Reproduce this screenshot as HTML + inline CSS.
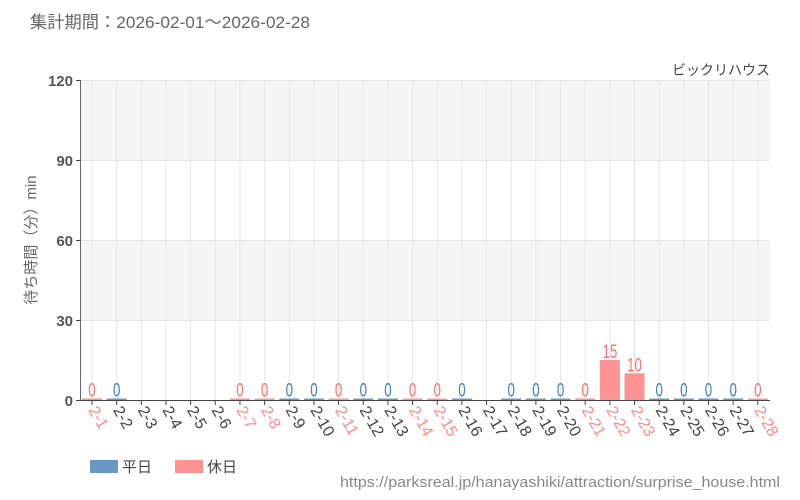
<!DOCTYPE html>
<html><head><meta charset="utf-8"><style>
body{margin:0;background:#fff;}
svg{display:block;font-family:"Liberation Sans","Noto Sans CJK JP",sans-serif;}
</style></head><body>
<svg id="c" width="800" height="500" xmlns="http://www.w3.org/2000/svg">
<text x="30" y="28" font-size="17" fill="#666" textLength="280" lengthAdjust="spacingAndGlyphs">集計期間：2026-02-01～2026-02-28</text>
<rect x="81" y="80" width="689" height="80" fill="#f5f5f5"/>
<rect x="81" y="240" width="689" height="80" fill="#f5f5f5"/>
<g stroke="#e6e6e6" stroke-width="1">
<line x1="81" y1="80.5" x2="770" y2="80.5"/><line x1="81" y1="160.5" x2="770" y2="160.5"/>
<line x1="81" y1="240.5" x2="770" y2="240.5"/><line x1="81" y1="320.5" x2="770" y2="320.5"/>
</g>
<g id="g"></g>
<line x1="80.5" y1="80" x2="80.5" y2="400" stroke="#666"/>
<line x1="80" y1="400.5" x2="770" y2="400.5" stroke="#444"/>
<g font-size="15" font-weight="bold" fill="#555" text-anchor="end">
<text x="73" y="86">120</text><text x="73" y="166">90</text><text x="73" y="246">60</text><text x="73" y="326">30</text><text x="73" y="406">0</text>
</g>
<g stroke="#444"><line x1="76" y1="80.5" x2="81" y2="80.5"/><line x1="76" y1="160.5" x2="81" y2="160.5"/><line x1="76" y1="240.5" x2="81" y2="240.5"/><line x1="76" y1="320.5" x2="81" y2="320.5"/><line x1="76" y1="400.5" x2="81" y2="400.5"/></g>
<text transform="translate(36,240) rotate(-90)" font-size="15" fill="#666" text-anchor="middle">待ち時間（分）min</text>
<text x="770" y="75" font-size="14" fill="#444" text-anchor="end">ビックリハウス</text>
<rect x="90" y="460" width="28" height="13" fill="#6699c4"/><text x="122" y="472" font-size="15" fill="#444">平日</text>
<rect x="175" y="460" width="28" height="13" fill="#ff9393"/><text x="207" y="472" font-size="15" fill="#444">休日</text>
<text x="340" y="487" font-size="15" fill="#888" textLength="440" lengthAdjust="spacingAndGlyphs">https://parksreal.jp/hanayashiki/attraction/surprise_house.html</text>
</svg>
<script>
var g=document.getElementById('g'),s='';
var red=[1,7,8,11,14,15,21,22,23,28],none=[3,4,5,6,17],val={22:15,23:10};
for(var d=1;d<=28;d++){
 var x=92+(d-1)*24.66,isR=red.indexOf(d)>=0,c=isR?'#ff9393':'#6699c4';
 s+='<line x1="'+x+'" y1="80" x2="'+x+'" y2="400" stroke="#e6e6e6"/>';
 s+='<line x1="'+x+'" y1="400" x2="'+x+'" y2="405" stroke="#444"/>';
 if(none.indexOf(d)<0){var v=val[d]||0,h=Math.max(v*2.667,1.5),ty=398-h;
  s+='<rect x="'+(x-10)+'" y="'+(400-h)+'" width="20" height="'+h+'" fill="'+c+'"/>';
  s+='<text font-size="19" fill="'+(isR?'#ff7070':'#4682b4')+'" text-anchor="middle" transform="translate('+x+','+ty+') scale(0.7,1)">'+v+'</text>';}
 s+='<text transform="translate('+(x-4)+',410) rotate(60)" font-size="16" fill="'+(isR?'#ff8a8a':'#444')+'">2-'+d+'</text>';
}
g.innerHTML=s;
</script>
</body></html>
